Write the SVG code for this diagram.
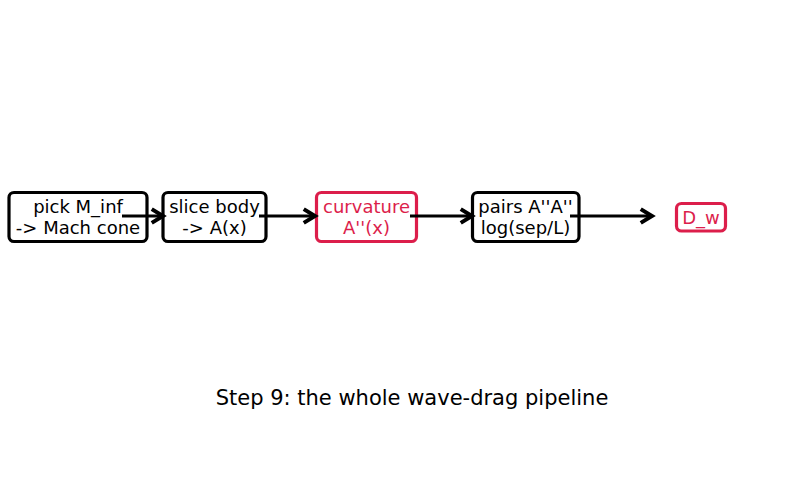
<svg xmlns="http://www.w3.org/2000/svg" width="805" height="480" viewBox="0 0 805 480">
<style>
.box{fill:#fff;stroke:#000;stroke-width:3.2}
.hot{stroke:#dc1e4b}
text{font-family:"DejaVu Sans",sans-serif;font-size:18px;text-anchor:middle}
.ht{fill:#dc1e4b}
.c{stroke:#000;stroke-width:3.2;fill:none}
</style>
<defs>
<marker id="ah" markerUnits="userSpaceOnUse" markerWidth="20" markerHeight="20" viewBox="-12 -8 14 16" refX="0" refY="0" orient="auto">
<path d="M-9,-5.5 L0,0 L-9,5.5" fill="none" stroke="#000" stroke-width="3.2" stroke-linejoin="miter"/>
</marker>
</defs>
<rect width="805" height="480" fill="#fff"/>
<g id="n1"><rect class="box" x="9" y="192.5" width="138" height="49" rx="5"/><text x="78" y="213">pick M_inf</text><text x="78" y="234">-&gt; Mach cone</text></g>
<g id="n2"><rect class="box" x="163" y="192.5" width="103" height="49" rx="5"/><text x="214.5" y="213">slice body</text><text x="214.5" y="234">-&gt; A(x)</text></g>
<g id="n3"><rect class="box hot" x="316.5" y="192.5" width="100" height="49" rx="5"/><text class="ht" x="366.5" y="213">curvature</text><text class="ht" x="366.5" y="234">A''(x)</text></g>
<g id="n4"><rect class="box" x="472.5" y="192.5" width="106.5" height="49" rx="5"/><text x="525.5" y="213">pairs A''A''</text><text x="525.5" y="234">log(sep/L)</text></g>
<g id="n5"><rect class="box hot" x="676.5" y="203.5" width="49" height="27.5" rx="5"/><text class="ht" x="701" y="224">D_w</text></g>
<g id="connectors">
<line class="c" x1="122" y1="216" x2="163" y2="216" marker-end="url(#ah)"/>
<line class="c" x1="259" y1="216" x2="315" y2="216" marker-end="url(#ah)"/>
<line class="c" x1="410" y1="216" x2="472" y2="216" marker-end="url(#ah)"/>
<line class="c" x1="570" y1="216" x2="652" y2="216" marker-end="url(#ah)"/>
</g>
<text x="412" y="405" style="font-size:21px">Step 9: the whole wave-drag pipeline</text>
</svg>
